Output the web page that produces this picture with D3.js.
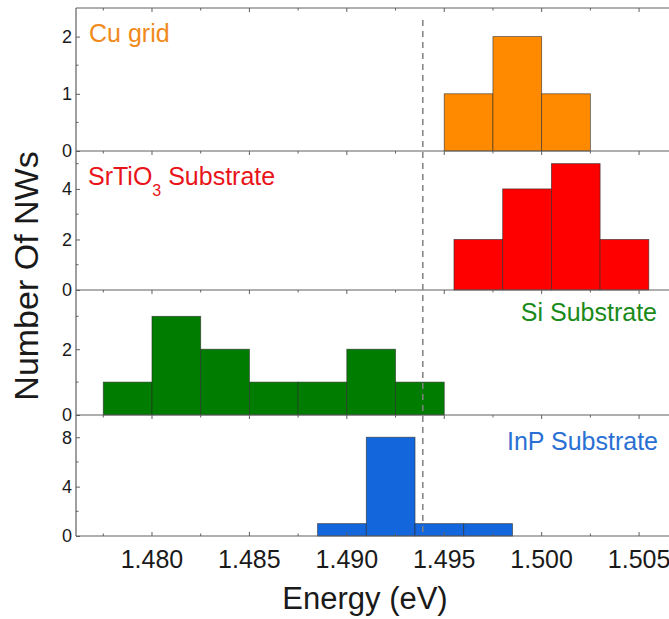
<!DOCTYPE html>
<html>
<head>
<meta charset="utf-8">
<script src="https://cdn.jsdelivr.net/npm/d3@7"></script>
<style>
  body { margin: 0; background: #fff; }
  svg { display: block; font-family: "Liberation Sans", Arial, sans-serif; }
</style>
</head>
<body>
<svg id="chart" width="669" height="619"></svg>
<script>
// Data
const binWidth = 0.0025;
const energyTicks = [1.480, 1.485, 1.490, 1.495, 1.500, 1.505];
const refEnergy = 1.4939; // dashed reference line

const panelNames = ["Cu grid", "SrTiO3 Substrate", "Si Substrate", "InP Substrate"];
const panelColors = ["#ff8a00", "#ff0000", "#007d00", "#1466dc"];
const labelColors = ["#f08a1a", "#e8141a", "#1a8a1a", "#2a70d4"];

const binStarts = [1.4950, 1.4955, 1.4775, 1.4885];
const cuCounts = [1, 2, 1];
const srCounts = [2, 4, 5, 2];
const siCounts = [1, 3, 2, 1, 1, 2, 1];
const inpCounts = [1, 8, 1, 1];
const allCounts = [cuCounts, srCounts, siCounts, inpCounts];

const yMax = [2.5, 5.5, 3.8, 9.8];
const yTicks = [[0, 1, 2], [0, 2, 4], [0, 2], [0, 4, 8]];
const yMinor = [[0.5, 1.5], [1, 3, 5], [1, 3], [2, 6]];

// layout
const left = 76, right = 672;
const panelTops = [8, 151, 290, 415];
const panelBottoms = [151, 290, 415, 536];
const axisColor = "#606060";

const svg = d3.select("#chart");

const x = d3.scaleLinear()
    .domain([1.4761, 1.50669])
    .range([left, right]);

const majorX = energyTicks;
const minorX = d3.range(1.4775, 1.5066, 0.0025);

panelNames.forEach((name, p) => {
    const y = d3.scaleLinear()
        .domain([0, yMax[p]])
        .range([panelBottoms[p], panelTops[p]]);

    const bins = allCounts[p].map((c, i) => ({
        x0: binStarts[p] + i * binWidth,
        x1: binStarts[p] + (i + 1) * binWidth,
        count: c
    }));

    const g = svg.append("g").attr("class", "panel");

    // bars
    g.selectAll("rect.bar")
        .data(bins)
        .enter()
        .append("rect")
        .attr("class", "bar")
        .attr("x", d => x(d.x0))
        .attr("y", d => y(d.count))
        .attr("width", d => x(d.x1) - x(d.x0))
        .attr("height", d => y(0) - y(d.count))
        .style("fill", panelColors[p])
        .style("stroke", "#2a2a2a")
        .style("stroke-opacity", 0.7)
        .style("stroke-width", 0.8);

    // top line of each layer, ticks pointing down
    g.append("line")
        .attr("x1", left).attr("x2", right)
        .attr("y1", panelTops[p]).attr("y2", panelTops[p])
        .style("stroke", axisColor).style("stroke-width", 1.2);

    g.selectAll("line.xtick")
        .data(minorX.map(v => ({v: v, major: majorX.some(m => Math.abs(m - v) < 1e-6)})))
        .enter()
        .append("line")
        .attr("class", "xtick")
        .attr("x1", d => x(d.v)).attr("x2", d => x(d.v))
        .attr("y1", panelTops[p])
        .attr("y2", d => panelTops[p] + (d.major ? 4 : 2.5))
        .style("stroke", axisColor).style("stroke-width", 1);

    // left y axis with inward ticks
    const yAxis = d3.axisRight(y)
        .tickValues(yTicks[p])
        .tickSize(4)
        .tickFormat("");
    g.append("g")
        .attr("transform", `translate(${left},0)`)
        .call(yAxis)
        .call(s => s.select(".domain").remove())
        .selectAll("line").style("stroke", axisColor);

    g.selectAll("line.yminor")
        .data(yMinor[p].filter(v => v < yMax[p]))
        .enter()
        .append("line")
        .attr("class", "yminor")
        .attr("x1", left).attr("x2", left + 2.5)
        .attr("y1", d => y(d)).attr("y2", d => y(d))
        .style("stroke", axisColor);

    g.selectAll("text.ylabel")
        .data(yTicks[p])
        .enter()
        .append("text")
        .attr("class", "ylabel")
        .attr("x", left - 4)
        .attr("y", d => y(d))
        .attr("dy", "0.36em")
        .attr("text-anchor", "end")
        .attr("font-size", "18px")
        .style("fill", "#1a1a1a")
        .text(d => d);
});

// y axis spine and bottom axis
svg.append("line")
    .attr("x1", left).attr("x2", left)
    .attr("y1", panelTops[0]).attr("y2", panelBottoms[3])
    .style("stroke", axisColor).style("stroke-width", 1.2);

const bottomY = panelBottoms[3];
svg.append("line")
    .attr("x1", left).attr("x2", right)
    .attr("y1", bottomY).attr("y2", bottomY)
    .style("stroke", axisColor).style("stroke-width", 1.2);

svg.selectAll("line.xbottom")
    .data(minorX.map(v => ({v: v, major: majorX.some(m => Math.abs(m - v) < 1e-6)})))
    .enter()
    .append("line")
    .attr("class", "xbottom")
    .attr("x1", d => x(d.v)).attr("x2", d => x(d.v))
    .attr("y1", bottomY)
    .attr("y2", d => bottomY - (d.major ? 4 : 2.5))
    .style("stroke", axisColor);

svg.selectAll("text.xlabel")
    .data(energyTicks)
    .enter()
    .append("text")
    .attr("class", "xlabel")
    .attr("x", d => x(d))
    .attr("y", 568)
    .attr("text-anchor", "middle")
    .attr("font-size", "25px")
    .style("fill", "#1a1a1a")
    .text(d => d3.format(".3f")(d));

// dashed reference line
svg.append("line")
    .attr("x1", x(refEnergy)).attr("x2", x(refEnergy))
    .attr("y1", 20).attr("y2", bottomY)
    .style("stroke", "#808080")
    .style("stroke-width", 1.5)
    .style("stroke-dasharray", "6,5");

// panel labels
const labelPos = [
    {x: 89, y: 42, anchor: "start"},
    {x: 88, y: 185, anchor: "start"},
    {x: 657, y: 321, anchor: "end"},
    {x: 658, y: 450, anchor: "end"}
];

panelNames.forEach((name, p) => {
    const t = svg.append("text")
        .attr("x", labelPos[p].x)
        .attr("y", labelPos[p].y)
        .attr("text-anchor", labelPos[p].anchor)
        .attr("font-size", "25px")
        .style("fill", labelColors[p]);
    if (name.startsWith("SrTiO3")) {
        t.append("tspan").text("SrTiO");
        t.append("tspan").attr("dy", 11).attr("font-size", "16px").text("3");
        t.append("tspan").attr("dy", -11).text(" Substrate");
    } else {
        t.text(name);
    }
});

// axis titles
svg.append("text")
    .attr("x", 365)
    .attr("y", 609)
    .attr("text-anchor", "middle")
    .attr("font-size", "31px")
    .style("fill", "#1a1a1a")
    .text("Energy (eV)");

svg.append("text")
    .attr("transform", `translate(38,${(panelTops[0] + bottomY) / 2 + 4}) rotate(-90)`)
    .attr("text-anchor", "middle")
    .attr("font-size", "34px")
    .style("fill", "#1a1a1a")
    .text("Number Of NWs");
</script>
</body>
</html>
